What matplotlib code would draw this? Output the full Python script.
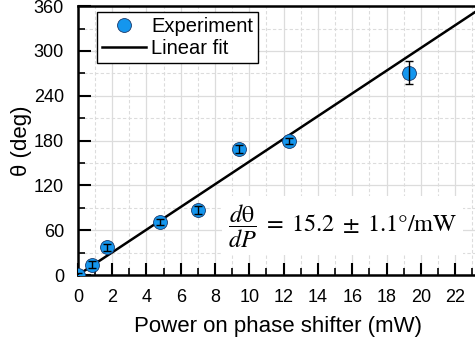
import matplotlib
matplotlib.use("Agg")
import matplotlib.pyplot as plt
from matplotlib.ticker import MultipleLocator
from matplotlib.lines import Line2D

# Measured phase shift versus heater power
power_mw = [0.0, 0.8, 1.7, 4.8, 7.0, 9.4, 12.3, 19.3]
theta_deg = [0.0, 14, 37, 71, 87, 169, 180, 271]
theta_err = [3, 5, 5, 4, 5, 5, 4, 15]

# Linear fit parameters
slope = 15.2
intercept = 0.0
fit_x = [0.0, 24.0]

plt.rcParams['font.family'] = ['Liberation Sans', 'DejaVu Sans']
plt.rcParams['mathtext.fontset'] = 'stix'

fig = plt.figure(figsize=(4.75, 3.43), dpi=100)
ax = fig.add_axes([0.164, 0.198, 0.841, 0.784])

marker_color = '#1496ee'
fit_y = [slope * x + intercept for x in fit_x]
ax.plot(fit_x, fit_y, color='black', lw=1.8, zorder=3)
ax.plot(power_mw, theta_deg, 'o', ms=10, mfc=marker_color, mec='#1b3a6b',
        mew=0.6, ls='none', zorder=4)
ax.errorbar(power_mw, theta_deg, yerr=theta_err, fmt='none', ecolor='black',
            elinewidth=1.0, capsize=3, capthick=1.0, zorder=5)

ax.set_xlim(0, 23.3)
ax.set_ylim(0, 360)
ax.xaxis.set_major_locator(MultipleLocator(2))
ax.xaxis.set_minor_locator(MultipleLocator(1))
ax.yaxis.set_major_locator(MultipleLocator(60))
ax.yaxis.set_minor_locator(MultipleLocator(30))

ax.grid(which='major', color='#dcdcdc', lw=0.9, ls='-')
ax.grid(which='minor', color='#dcdcdc', lw=0.8, ls=(0, (3, 2)))
ax.set_axisbelow(True)

ax.tick_params(which='major', direction='in', length=9, width=1.5,
               labelsize=13)
ax.tick_params(axis='x', which='major', pad=10)
ax.tick_params(axis='y', which='major', pad=10)
ax.tick_params(which='minor', direction='in', length=5, width=1.2)
for s in ax.spines.values():
    s.set_linewidth(1.8)

ax.set_xlabel('Power on phase shifter (mW)', fontsize=16, labelpad=7)
ax.set_ylabel('θ (deg)', fontsize=16, labelpad=1)

handles = [
    Line2D([], [], marker='o', ls='none', ms=10, mfc=marker_color,
           mec='#1b3a6b', mew=0.6),
    Line2D([], [], color='black', lw=1.8),
]
leg = ax.legend(handles, ['Experiment', 'Linear fit'], loc='upper left',
                bbox_to_anchor=(0.048, 0.978), fontsize=14.5, frameon=True,
                fancybox=False, edgecolor='black', framealpha=1,
                handlelength=2.2, handletextpad=0.25, borderpad=0.25,
                labelspacing=0.15, borderaxespad=0)
leg.get_frame().set_linewidth(1.0)

ax.text(8.75, 66,
        r'$\dfrac{d\mathrm{θ}}{dP}\;=\;15.2\;\pm\;1.1°/\mathrm{mW}$',
        fontsize=17.5, va='center', ha='left', zorder=6,
        bbox=dict(facecolor='white', edgecolor='none', pad=4))

fig.savefig('out.png', dpi=100)
